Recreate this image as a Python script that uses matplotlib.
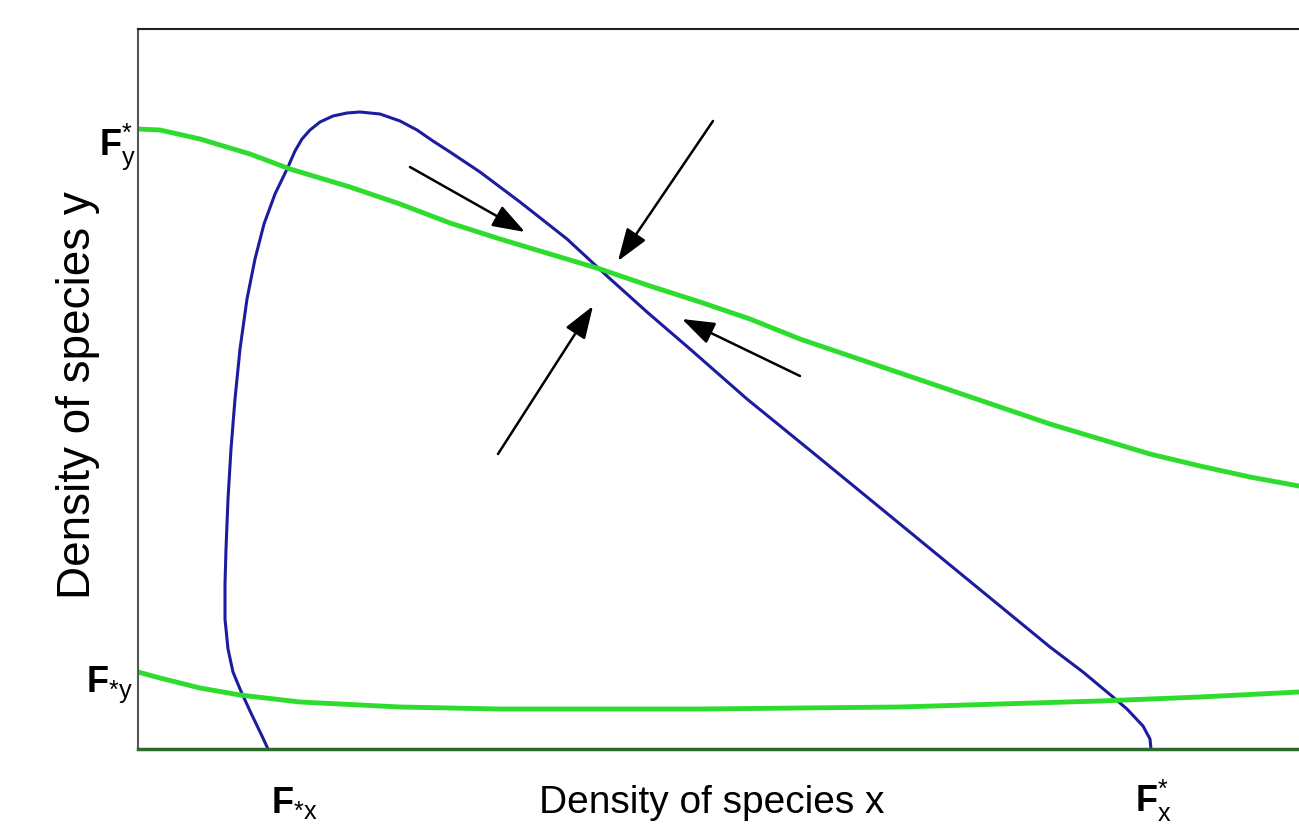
import matplotlib.pyplot as plt

# coordinates (x right, y up, in axes units 0..1161 / 0..720)
def to_data(px, py):
    return [p - 138 for p in px], [750 - q for q in py]

# isocline of species x (blue, hump shaped)
blue_px = [268, 262, 250, 240, 233, 228, 225, 225, 226, 228, 231, 235, 240, 247, 255, 264,
           275, 288, 295, 302, 310, 320, 333, 347, 360, 380, 400, 417, 433, 450, 480, 520,
           567, 607, 647, 690, 747, 817, 900, 1000, 1050, 1083, 1113, 1127, 1143, 1150, 1151]
blue_py = [750, 737, 712, 690, 673, 650, 620, 585, 550, 500, 450, 400, 350, 300, 260, 225,
           195, 168, 152, 140, 131, 123, 117, 114, 113, 115, 122, 131, 142, 153, 173, 203,
           240, 277, 313, 350, 400, 457, 525, 607, 648, 673, 698, 710, 727, 740, 750]

# isocline of species y, upper branch
green_up_px = [138, 160, 200, 250, 290, 350, 400, 450, 500, 550, 600, 650, 700, 750, 800,
               850, 900, 950, 1000, 1050, 1100, 1150, 1200, 1250, 1299]
green_up_py = [130, 131, 140, 155, 170, 188, 205, 224, 240, 255, 270, 287, 303, 320, 340,
               357, 374, 391, 408, 425, 440, 455, 467, 478, 487]

# isocline of species y, lower branch
green_lo_px = [138, 160, 200, 240, 300, 400, 500, 600, 700, 800, 900, 1000, 1100, 1200, 1299]
green_lo_py = [673, 679, 689, 696, 703, 708, 710, 710, 710, 709, 708, 705, 702, 698, 693]

# arrows towards the equilibrium: (tail x, tail y, tip x, tip y)
arrows_px = [(410, 168, 525, 233), (713, 122, 618, 262),
             (498, 455, 593, 307), (800, 377, 682, 320)]

# labels at the axes: (text, x, y baseline)
tick_labels = [(r'$\mathbf{F}^{*}_{\mathrm{y}}$', 99, 155),
               (r'$\mathbf{F}_{*\mathrm{y}}$', 86, 692),
               (r'$\mathbf{F}_{*\mathrm{x}}$', 271, 813),
               (r'$\mathbf{F}^{*}_{\mathrm{x}}$', 1135, 812)]

plt.rcParams['font.family'] = 'Liberation Sans'
plt.rcParams['mathtext.fontset'] = 'custom'
plt.rcParams['mathtext.rm'] = 'Liberation Sans'
plt.rcParams['mathtext.bf'] = 'Liberation Sans:bold'
plt.rcParams['mathtext.it'] = 'Liberation Sans'

fig = plt.figure(figsize=(12.99, 8.37), dpi=100)
ax = fig.add_axes([138 / 1299, 1 - 750 / 837, 1 - 138 / 1299 + 0.01, 720 / 837])
ax.set_xlim(0, 1161 + 13)
ax.set_ylim(0, 720)

bx, by = to_data(blue_px, blue_py)
ax.plot(bx, by, color='#1c1ca0', lw=2.2, solid_capstyle='butt', clip_on=False)
gx, gy = to_data(green_up_px, green_up_py)
ax.plot(gx, gy, color='#2edc2e', lw=3.5)
gx, gy = to_data(green_lo_px, green_lo_py)
ax.plot(gx, gy, color='#2edc2e', lw=3.5)

for x0, y0, x1, y1 in arrows_px:
    (tx, hx), (ty, hy) = to_data([x0, x1], [y0, y1])
    ax.annotate('', xy=(hx, hy), xytext=(tx, ty),
                arrowprops=dict(arrowstyle='-|>,head_length=1.0,head_width=0.35',
                                color='black', lw=1.8, mutation_scale=20,
                                shrinkA=0, shrinkB=0))

for txt, px, py in tick_labels:
    x, y = to_data([px], [py])
    ax.text(x[0], y[0], txt, fontsize=26, ha='left', va='baseline', clip_on=False)

ax.set_xticks([])
ax.set_yticks([])
ax.spines['right'].set_visible(False)
ax.spines['top'].set_color('#222222')
ax.spines['left'].set_color('#555555')
ax.spines['bottom'].set_color('#2a6a2a')
for s in ax.spines.values():
    s.set_linewidth(1.5)
ax.spines['bottom'].set_linewidth(2.5)

fig.text(712 / 1299, 1 - 813 / 837, 'Density of species x', fontsize=28,
         ha='center', va='baseline')
fig.text(78 / 1299, 1 - 395 / 837, 'Density of species y', fontsize=33,
         ha='center', va='center', rotation=90)

fig.savefig('out.png', dpi=100, facecolor='white')
